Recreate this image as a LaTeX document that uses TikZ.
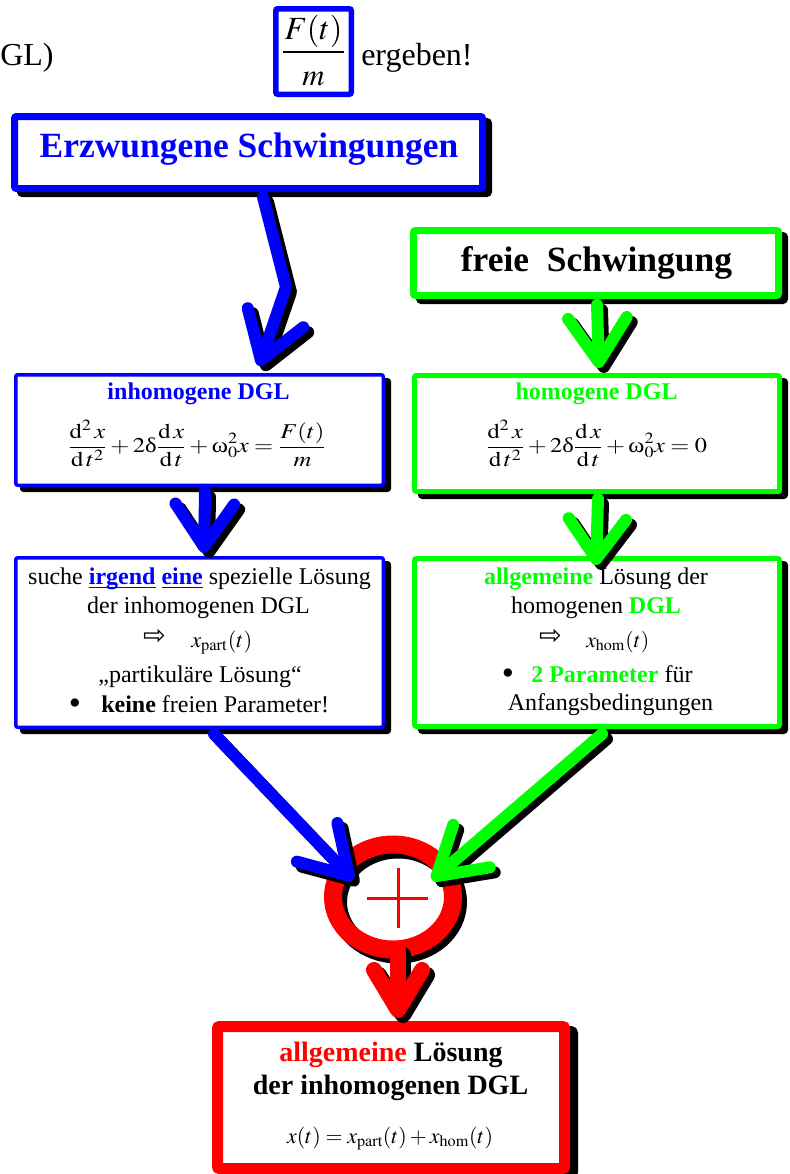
\documentclass[tikz,border=0pt]{standalone}
\usepackage{mathptmx}
\usepackage{fontspec}
\setmainfont{Liberation Serif}
\newfontfamily\djv{DejaVu Sans}
\usepackage{graphicx}
\usetikzlibrary{arrows.meta,shapes.geometric,shadows}
\newdimen\pxu \pxu=0.75pt
\newcommand\myul[1]{\setbox0\hbox{#1}\rlap{\rule[-3.2pt]{\wd0}{1.2pt}}\box0}
\newcommand\bul{{\fontsize{26}{26}\selectfont •}}
\begin{document}
\begin{tikzpicture}[x=0.75pt,y=-0.75pt,
  box/.style={draw, rectangle, inner sep=0pt, outer sep=0pt, rounded corners=1.5pt, fill=white},
  bshadow/.style={general shadow={draw=black, fill=black, shadow xshift=4.5pt, shadow yshift=-3.75pt}},
  txt/.style={anchor=base, inner sep=0pt, font=\fontsize{18}{21}\selectfont},
  shd/.style={draw=black, transform canvas={shift={(3.75pt,-3.75pt)}}},
  arr/.style={line width=12\pxu, line cap=round, line join=round},
]
\useasboundingbox (0,0) rectangle (789,1174);

% ---- top line ----
\node[anchor=base west, inner sep=0pt, font=\fontsize{24}{28}\selectfont] (gl) at (0,65) {GL)};
\node[box, draw=blue, line width=5.5\pxu, minimum width=75.5\pxu, minimum height=85.5\pxu] (fbox) at (313.5,51.5) {};
\node[anchor=base, inner sep=0pt] (fnum) at (313.5,40) {\resizebox{43.5pt}{!}{\fontsize{21}{24}\selectfont$F(t)$}};
\node[anchor=base, inner sep=0pt] (fden) at (313.5,85) {\fontsize{23}{26}\selectfont$m$};
\draw[line width=1.2\pxu] (283,52) -- (344,52);
\node[anchor=base west, inner sep=0pt, font=\fontsize{24}{28}\selectfont] (erg) at (361,65) {ergeben!};

% ---- boxes ----
\node[box, bshadow, draw=blue, line width=7\pxu, minimum width=468\pxu, minimum height=72\pxu] (erz) at (248.5,152.5) {};
\node[box, bshadow, draw=green, line width=7\pxu, minimum width=365\pxu, minimum height=65\pxu] (frei) at (596,263) {};
\node[box, bshadow, draw=blue, line width=3.5\pxu, minimum width=367.5\pxu, minimum height=110.5\pxu] (inh) at (199.5,430) {};
\node[box, bshadow, draw=green, line width=5\pxu, minimum width=365\pxu, minimum height=116\pxu] (hom) at (597,433.5) {};
\node[box, bshadow, draw=blue, line width=3.5\pxu, minimum width=367.5\pxu, minimum height=169.5\pxu] (spez) at (199.5,642.5) {};
\node[box, bshadow, draw=green, line width=5\pxu, minimum width=365\pxu, minimum height=168\pxu] (allg) at (597,642.5) {};
\node[box, draw=red, line width=11\pxu, minimum width=347\pxu, minimum height=142\pxu,
  general shadow={draw=black, fill=black, shadow xshift=6pt, shadow yshift=-3.75pt}] (fin) at (391,1097.5) {};
\node[ellipse, draw=red, line width=18\pxu, minimum width=120\pxu, minimum height=105\pxu, inner sep=0pt, outer sep=0pt,
  general shadow={draw=black, shadow xshift=3.75pt, shadow yshift=-3.75pt}] (circ) at (393,897) {};
\draw[red, line width=3\pxu] (367,898) -- (428,898) (398,868) -- (398,928);

% ---- texts ----
\node[anchor=base, inner sep=0pt, text=blue, font=\bfseries\fontsize{26.6}{30}\selectfont] (erzt) at (249,157) {Erzwungene Schwingungen};
\node[anchor=base, inner sep=0pt, font=\bfseries\fontsize{26.6}{30}\selectfont] (freit) at (596.5,271) {freie\ \ Schwingung};

\node[txt, text=blue, font=\bfseries\fontsize{18}{21}\selectfont] (inhT) at (198.5,399) {inhomogene DGL};
\node[txt, text=green, font=\bfseries\fontsize{18}{21}\selectfont] (homT) at (596.5,399) {homogene DGL};
\node[anchor=center, inner sep=0pt] (inhE) at (197,443.5) {\resizebox*{193.5pt}{35.25pt}{\fontsize{19}{22}\selectfont$\displaystyle \frac{\mathrm{d}^2\, x}{\mathrm{d}\,t^2}+2\mbox{δ}\frac{\mathrm{d}\,x}{\mathrm{d}\,t}+\mbox{ω}_0^2x=\frac{F(t)}{m}$}};
\node[anchor=center, inner sep=0pt] (homE) at (596.5,443.5) {\resizebox*{165.75pt}{35.25pt}{\fontsize{19}{22}\selectfont$\displaystyle \frac{\mathrm{d}^2\, x}{\mathrm{d}\,t^2}+2\mbox{δ}\frac{\mathrm{d}\,x}{\mathrm{d}\,t}+\mbox{ω}_0^2x=0$}};

\node[txt] (l1) at (199.5,584) {suche \textcolor{blue}{\myul{\textbf{irgend}}} \textcolor{blue}{\myul{\textbf{eine}}} spezielle Lösung};
\node[txt] (l2) at (198.5,613) {der inhomogenen DGL};
\node[anchor=center, inner sep=0pt] (l3a) at (154.5,636.5) {\resizebox{17pt}{!}{\djv ⇨}};
\node[anchor=base west, inner sep=0pt] (l3b) at (191,647) {\resizebox{45.75pt}{!}{$x_{\mathrm{part}}(t)$}};
\node[txt] (l4) at (200,682) {„partikuläre Lösung“};
\node[txt] (l5a) at (75,714) {\bul};
\node[txt, anchor=base west] (l5b) at (101,712) {\textbf{keine} freien Parameter!};

\node[txt] (r1) at (596,584) {\textcolor{green}{\textbf{allgemeine}} Lösung der};
\node[txt] (r2) at (596,613) {homogenen \textcolor{green}{\textbf{DGL}}};
\node[anchor=center, inner sep=0pt] (r3a) at (550.5,636.5) {\resizebox{17pt}{!}{\djv ⇨}};
\node[anchor=base west, inner sep=0pt] (r3b) at (586,647) {\resizebox{47.25pt}{!}{$x_{\mathrm{hom}}(t)$}};
\node[txt] (r4a) at (508,684) {\bul};
\node[txt, anchor=base west] (r4b) at (531,682) {\textcolor{green}{\textbf{2 Parameter}} für};
\node[txt] (r5) at (610.5,710) {Anfangsbedingungen};

\node[txt, font=\bfseries\fontsize{21}{24}\selectfont] (f1) at (391,1061) {\textcolor{red}{allgemeine} Lösung};
\node[txt, font=\bfseries\fontsize{21}{24}\selectfont] (f2) at (390.5,1094) {der inhomogenen DGL};
\node[txt] (f3) at (390,1143) {\resizebox{154.5pt}{!}{$x(t)=x_{\mathrm{part}}(t)+x_{\mathrm{hom}}(t)$}};

% ---- arrow coordinates ----
\coordinate (a1s) at (263,197);
\coordinate (a1b) at (286,287);
\coordinate (a1t) at (259,366);
\coordinate (a2s) at (597,305);
\coordinate (a2t) at (599,368);
\coordinate (a3s) at (205,492);
\coordinate (a3t) at (204,553);
\coordinate (a4s) at (598,499);
\coordinate (a4t) at (596,565);
\coordinate (a5s) at (214,734);
\coordinate (a5t) at (353,880);
\coordinate (a6s) at (602,734);
\coordinate (a6t) at (432,880);
\coordinate (a7s) at (398,950);
\coordinate (a7t) at (398,1018);

% ---- arrows: shadows ----
\draw[arr, shd, -{Straight Barb[length=33.75pt, width=44pt, round]}] (a1s) -- (a1b) -- (a1t);
\draw[arr, shd, -{Straight Barb[length=33pt, width=44pt, round]}] (a2s) -- (a2t);
\draw[arr, shd, -{Straight Barb[length=32.25pt, width=44pt, round]}] (a3s) -- (a3t);
\draw[arr, shd, -{Straight Barb[length=30pt, width=43pt, round]}] (a4s) -- (a4t);
\draw[arr, shd, -{Straight Barb[length=34.5pt, width=42pt, round]}] (a5s) -- (a5t);
\draw[arr, shd, -{Straight Barb[length=34.5pt, width=42pt, round]}] (a6s) -- (a6t);
\draw[arr, shd, line width=16\pxu, -{Straight Barb[length=30pt, width=36pt, round]}] (a7s) -- (a7t);
% ---- arrows ----
\draw[arr, blue, -{Straight Barb[length=33.75pt, width=44pt, round]}] (a1s) -- (a1b) -- (a1t);
\draw[arr, green, -{Straight Barb[length=33pt, width=44pt, round]}] (a2s) -- (a2t);
\draw[arr, blue, -{Straight Barb[length=32.25pt, width=44pt, round]}] (a3s) -- (a3t);
\draw[arr, green, -{Straight Barb[length=30pt, width=43pt, round]}] (a4s) -- (a4t);
\draw[arr, blue, -{Straight Barb[length=34.5pt, width=42pt, round]}] (a5s) -- (a5t);
\draw[arr, green, -{Straight Barb[length=34.5pt, width=42pt, round]}] (a6s) -- (a6t);
\draw[arr, red, line width=16\pxu, -{Straight Barb[length=30pt, width=36pt, round]}] (a7s) -- (a7t);
\end{tikzpicture}
\end{document}
